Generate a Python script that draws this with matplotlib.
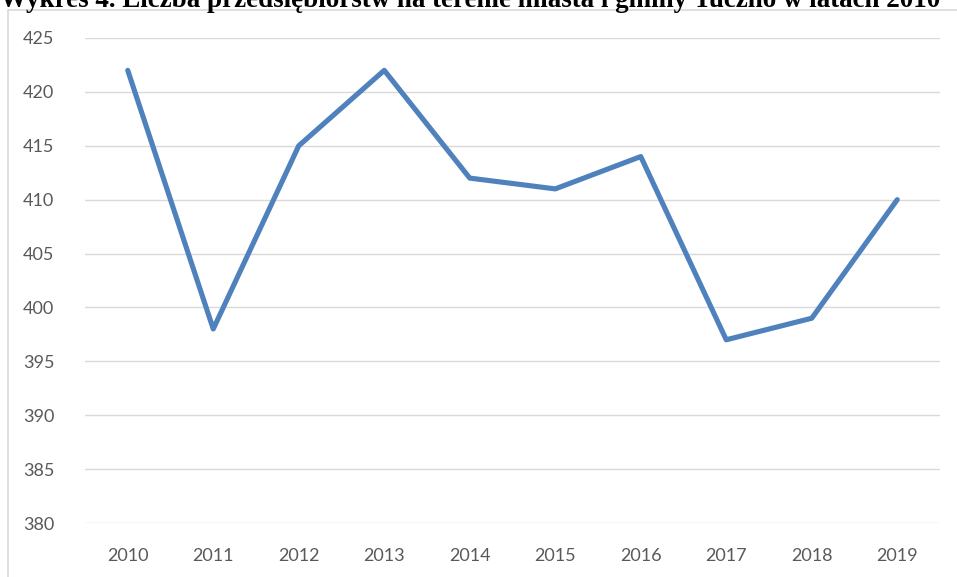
import matplotlib.pyplot as plt
from matplotlib.patches import Rectangle

years = ['2010', '2011', '2012', '2013', '2014', '2015', '2016', '2017', '2018', '2019']
firms = [422, 398, 415, 422, 412, 411, 414, 397, 399, 410]
y_ticks = [380, 385, 390, 395, 400, 405, 410, 415, 420, 425]
title = 'Wykres 4. Liczba przedsiębiorstw na terenie miasta i gminy Tuczno w latach 2010'

W, H = 957, 577
fig = plt.figure(figsize=(W / 100, H / 100), dpi=100)

# chart frame (partly outside the picture)
fig.patches.append(Rectangle((8 / W, -0.1), 1.2, 1 - 10 / H + 0.1,
                             transform=fig.transFigure, fill=False,
                             edgecolor='#D9D9D9', linewidth=1.2))

# title cut off at the top edge, like in the source:
# size it so that it ends near x = 942 px
t = fig.text(0, 1 - 7 / H, title, ha='left', va='baseline',
             fontfamily='Liberation Serif', fontweight='bold', fontsize=19,
             color='black')
r = fig.canvas.get_renderer()
w = t.get_window_extent(r).width
t.set_fontsize(19 * 942 / w)

ax = fig.add_axes([85 / W, 1 - 523 / H, (940 - 85) / W, (523 - 38) / H])
x = list(range(len(years)))
ax.plot(x, firms, color='#4F81BD', linewidth=3.7, solid_capstyle='round',
        solid_joinstyle='round')

ax.set_xlim(-0.5, len(years) - 0.5)
ax.set_ylim(380, 425)
ax.set_yticks(y_ticks)
ax.set_xticks(x)
ax.set_xticklabels(years)
ax.grid(axis='y', color='#D9D9D9', linewidth=1.0)
ax.set_axisbelow(True)
for s in ax.spines.values():
    s.set_visible(False)
ax.tick_params(length=0, colors='#595959', labelsize=13)
ax.tick_params(axis='y', pad=22)
ax.tick_params(axis='x', pad=18)
for lab in ax.get_xticklabels() + ax.get_yticklabels():
    lab.set_fontfamily('Lato')

fig.savefig('out.png', dpi=100)
